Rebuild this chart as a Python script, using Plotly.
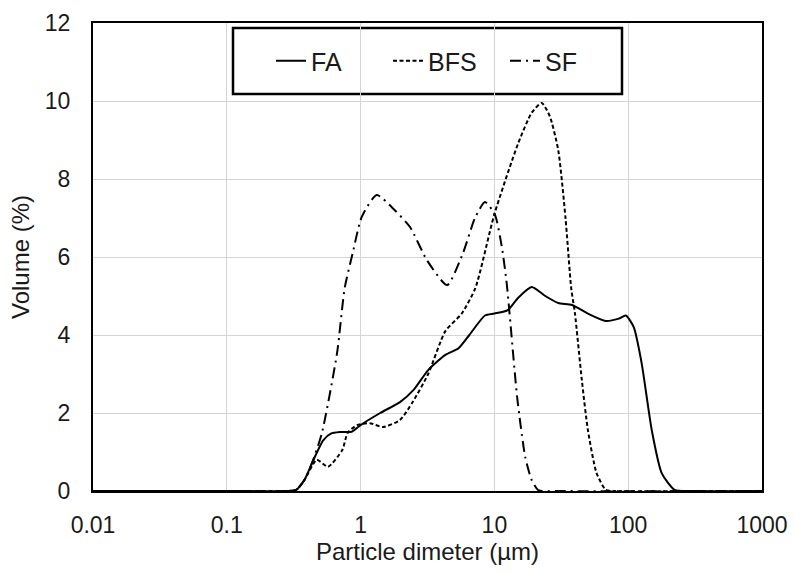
import plotly.graph_objects as go

# Particle diameter (µm) and volume (%)
fa_d = [0.01, 0.1, 0.28, 0.33, 0.38, 0.434, 0.525, 0.6, 0.70, 0.86, 1.0, 1.4, 1.97, 2.5, 3.2, 4.3, 5.4, 6.5, 8.5, 10, 12.6, 15, 19, 24, 30, 38, 50, 68, 85, 96, 110, 126, 150, 178, 222, 300, 1000]
fa_v = [0, 0, 0, 0.03, 0.28, 0.72, 1.3, 1.47, 1.51, 1.52, 1.69, 2.0, 2.28, 2.6, 3.1, 3.49, 3.66, 4.0, 4.5, 4.55, 4.64, 4.95, 5.23, 5.0, 4.82, 4.77, 4.55, 4.36, 4.42, 4.5, 4.2, 3.28, 1.56, 0.46, 0.03, 0, 0]

bfs_d = [0.01, 0.1, 0.28, 0.33, 0.38, 0.47, 0.57, 0.73, 0.80, 0.94, 1.17, 1.47, 1.97, 2.45, 3.2, 4.3, 5.7, 7.2, 10, 15, 19, 22.6, 26, 30, 34, 37.5, 40, 45, 50, 58, 68, 80, 1000]
bfs_v = [0, 0, 0, 0.03, 0.28, 0.8, 0.62, 1.05, 1.49, 1.69, 1.74, 1.64, 1.82, 2.28, 3.0, 4.1, 4.55, 5.2, 7.1, 8.9, 9.7, 9.95, 9.6, 8.74, 7.0, 5.2, 4.55, 2.85, 1.56, 0.46, 0.03, 0, 0]

sf_d = [0.01, 0.1, 0.28, 0.33, 0.38, 0.434, 0.514, 0.667, 0.76, 0.877, 1.02, 1.32, 1.8, 2.34, 3.13, 4.43, 5.82, 7.16, 8.5, 10.1, 11.4, 12.4, 14.8, 17, 19, 21.3, 30, 1000]
sf_v = [0, 0, 0, 0.03, 0.28, 0.72, 1.49, 3.54, 5.2, 6.13, 7.03, 7.59, 7.2, 6.77, 5.92, 5.28, 6.1, 7.0, 7.41, 7.08, 6.23, 5.28, 2.4, 0.87, 0.28, 0.02, 0, 0]

x_tickvals = [0.01, 0.1, 1, 10, 100, 1000]
x_ticktext = ["0.01", "0.1", "1", "10", "100", "1000"]
y_tickvals = [0, 2, 4, 6, 8, 10, 12]

FONT = "Liberation Sans, Arial, sans-serif"
TXT = "#1a1a1a"

fig = go.Figure()
fig.add_trace(go.Scatter(x=fa_d, y=fa_v, name="FA", mode="lines",
                         line=dict(color="black", width=2, shape="spline", smoothing=0.6)))
fig.add_trace(go.Scatter(x=bfs_d, y=bfs_v, name="BFS", mode="lines",
                         line=dict(color="black", width=2, dash="4px,2.5px", shape="spline", smoothing=0.6)))
fig.add_trace(go.Scatter(x=sf_d, y=sf_v, name="SF", mode="lines",
                         line=dict(color="black", width=2, dash="11px,5px,2px,5px", shape="spline", smoothing=0.6)))

# legend frame
fig.add_shape(type="rect", xref="paper", yref="paper",
              x0=(233 - 93) / 669, x1=(622 - 93) / 669,
              y0=(491 - 94) / 468, y1=(491 - 28) / 468,
              line=dict(color="black", width=2.5), fillcolor="white", layer="below")

fig.update_layout(
    width=795, height=572,
    margin=dict(l=93, r=33, t=23, b=81, autoexpand=False),
    paper_bgcolor="white", plot_bgcolor="white",
    font=dict(family=FONT, size=23, color=TXT),
    showlegend=True,
    legend=dict(orientation="h", x=(271 - 93) / 669, y=(491 - 61) / 468,
                xanchor="left", yanchor="middle",
                font=dict(size=25, family=FONT, color=TXT),
                bgcolor="rgba(0,0,0,0)", borderwidth=0,
                entrywidth=72, itemwidth=30, traceorder="normal"),
    xaxis=dict(type="log", range=[-2, 3], tickvals=x_tickvals, ticktext=x_ticktext,
               showgrid=True, gridcolor="#d4d4d4", gridwidth=1,
               showline=True, linecolor="black", linewidth=2, mirror=True,
               ticks="", ticklabelstandoff=12, zeroline=False, automargin=False,
               title=dict(text="Particle dimeter (µm)", standoff=6, font=dict(size=24))),
    yaxis=dict(range=[0, 12], tickvals=y_tickvals,
               showgrid=True, gridcolor="#d4d4d4", gridwidth=1,
               showline=True, linecolor="black", linewidth=2, mirror=True,
               ticks="", ticklabelstandoff=16, zeroline=False, automargin=False,
               title=dict(text="Volume (%)", standoff=8, font=dict(size=24))),
)

fig.write_html("out.html")
